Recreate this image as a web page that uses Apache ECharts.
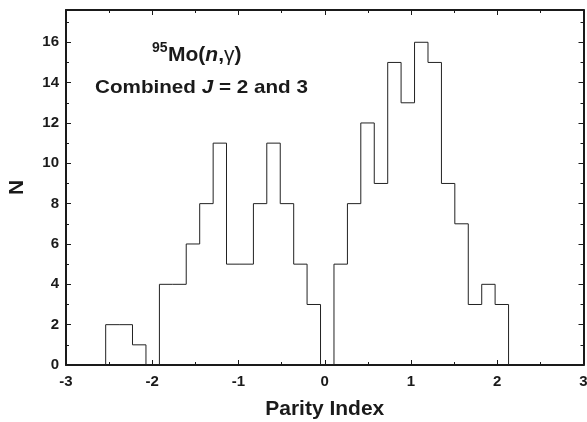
<!DOCTYPE html>
<html><head><meta charset="utf-8">
<script src="https://cdn.jsdelivr.net/npm/echarts@6/dist/echarts.min.js"></script>
<style>html,body{margin:0;padding:0;background:#fff}#c{width:587px;height:422px}</style>
</head><body><div id="c"></div>
<script>
// Histogram bin edges (Parity Index)
const binEdges = [-2.540,-2.384,-2.229,-2.073,-1.917,-1.762,-1.606,-1.450,-1.294,-1.139,
  -0.983,-0.827,-0.672,-0.516,-0.360,-0.205,-0.049,0.107,0.263,0.418,
  0.574,0.730,0.885,1.041,1.197,1.353,1.508,1.664,1.820,1.975,2.131];
// Counts N per bin
const counts = [2,2,1,0,4,4,6,8,11,5,5,8,11,8,5,3,0,5,8,12,9,15,13,16,15,9,7,3,4,3];
const xTickLabels = [-3,-2,-1,0,1,2,3];
const yTickLabels = [0,2,4,6,8,10,12,14,16];

const FONT = "'Liberation Sans', Arial, Helvetica, sans-serif";
const INK = '#1a1a1a';

// outline points for a step histogram
const pts = [[binEdges[0], 0]];
for (let i = 0; i < counts.length; i++) pts.push([binEdges[i], counts[i]]);
pts.push([binEdges[counts.length], counts[counts.length - 1]]);
pts.push([binEdges[counts.length], 0]);

const X_MIN = xTickLabels[0], X_MAX = xTickLabels[xTickLabels.length - 1];
const Y_MIN = 0, Y_MAX = 17.6;

function xAx(pos, labels) {
  return {
    type: 'value', position: pos, min: X_MIN, max: X_MAX, interval: 1,
    axisLine: { show: true, onZero: false, lineStyle: { color: INK, width: 2 } },
    axisTick: { show: true, inside: true, length: 5, lineStyle: { color: INK, width: 1 } },
    minorTick: { show: true, splitNumber: 2, length: 3, lineStyle: { color: INK, width: 1 } },
    splitLine: { show: false }, minorSplitLine: { show: false },
    axisLabel: labels ? { show: true, margin: 9, fontFamily: FONT, fontWeight: 'bold', fontSize: 15, color: INK,
      formatter: v => xTickLabels.indexOf(v) >= 0 ? String(v) : '' } : { show: false },
    name: labels ? 'Parity Index' : '', nameLocation: 'middle', nameGap: 34,
    nameTextStyle: { fontFamily: FONT, fontWeight: 'bold', fontSize: 21, color: INK }
  };
}
function yAx(pos, interval, len, line, labels) {
  return {
    type: 'value', position: pos, min: Y_MIN, max: Y_MAX, interval: interval,
    axisLine: { show: line, onZero: false, lineStyle: { color: INK, width: 2 } },
    axisTick: { show: true, inside: true, length: len, lineStyle: { color: INK, width: 1 } },
    splitLine: { show: false },
    axisLabel: labels ? { show: true, margin: 7, fontFamily: FONT, fontWeight: 'bold', fontSize: 15, color: INK,
      showMaxLabel: false,
      formatter: v => yTickLabels.indexOf(v) >= 0 ? String(v) : '' } : { show: false },
    name: labels ? 'N' : '', nameLocation: 'middle', nameGap: 38, nameRotate: 90,
    nameTextStyle: { fontFamily: FONT, fontWeight: 'bold', fontSize: 21, color: INK }
  };
}

const chart = echarts.init(document.getElementById('c'), null, { renderer: 'canvas' });
chart.setOption({
  animation: false,
  backgroundColor: '#fff',
  grid: { left: 66, right: 3.5, top: 10, bottom: 57, containLabel: false, outerBoundsMode: 'none' },
  xAxis: [xAx('bottom', true), xAx('top', false)],
  yAxis: [yAx('left', 2, 5, true, true), yAx('left', 1, 3, false, false),
          yAx('right', 2, 5, true, false), yAx('right', 1, 3, false, false)],
  series: [{
    type: 'line', xAxisIndex: 0, yAxisIndex: 0, step: 'end', data: pts,
    showSymbol: false, symbol: 'none', lineStyle: { color: '#222', width: 1 }, silent: true
  }],
  graphic: [
    { type: 'text', x: 152, y: 41, style: { text: '95', font: 'bold 14px ' + FONT, fill: INK } },
    { type: 'text', x: 168, y: 45, style: {
        text: '{b|Mo(}{i|n}{b|,}{g|γ}{b|)}',
        rich: {
          b: { fontFamily: FONT, fontWeight: 'bold', fontSize: 21, fill: INK },
          i: { fontFamily: FONT, fontWeight: 'bold', fontStyle: 'italic', fontSize: 21, fill: INK },
          g: { fontFamily: FONT, fontWeight: 'normal', fontSize: 21, fill: INK }
        } } },
    { type: 'text', x: 95, y: 78, scaleX: 1.087, style: {
        text: '{b|Combined }{i|J}{b| = 2 and 3}',
        rich: {
          b: { fontFamily: FONT, fontWeight: 'bold', fontSize: 19, fill: INK },
          i: { fontFamily: FONT, fontWeight: 'bold', fontStyle: 'italic', fontSize: 19, fill: INK }
        } } }
  ]
});
</script>
</body></html>
